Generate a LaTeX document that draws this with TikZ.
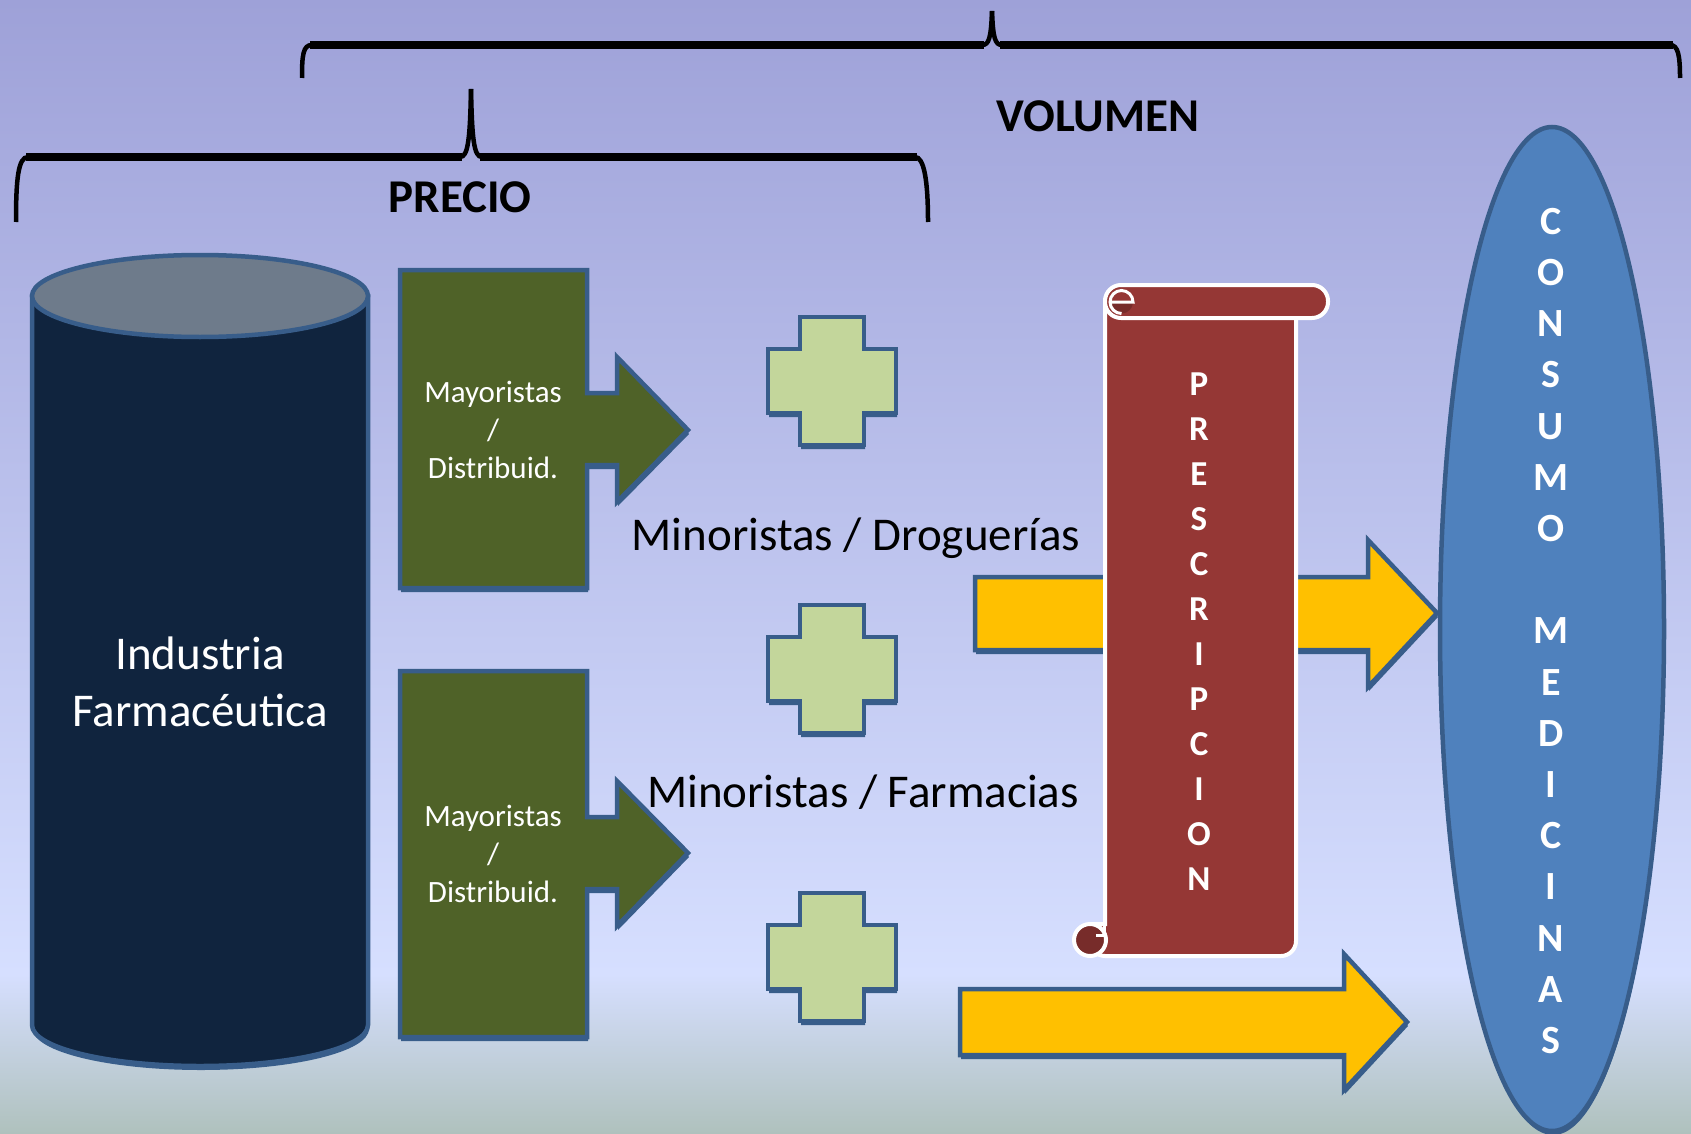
\documentclass[tikz,border=0pt]{standalone}
\usepackage{fontspec}
\setmainfont{Carlito}
\definecolor{bgtop}{HTML}{9EA1D8}
\definecolor{bgmid}{HTML}{D6DFFF}
\definecolor{bgbot}{HTML}{AFC1BD}
\definecolor{outl}{HTML}{385D8A}
\definecolor{navy}{HTML}{10243E}
\definecolor{cyltop}{HTML}{6E7B8B}
\definecolor{olive}{HTML}{4F6228}
\definecolor{lgreen}{HTML}{C3D69B}
\definecolor{gold}{HTML}{FFC000}
\definecolor{scrollred}{HTML}{953735}
\definecolor{scrolldark}{HTML}{772C2A}
\definecolor{ellblue}{HTML}{4F81BD}
\tikzset{
  shad/.style={preaction={fill=outl, transform canvas={xshift=1pt,yshift=-4pt}}},
  shp/.style={draw=outl, line width=4.5pt, line join=miter},
  bracepath/.style={line width=4.5pt, black, line cap=butt},
  braceband/.style={line width=8pt, black},
  plusshape/.pic={
    \path[shp, shad, fill=lgreen] (32,0) -- (96,0) -- (96,32) -- (128,32) -- (128,96) -- (96,96) -- (96,128) -- (32,128) -- (32,96) -- (0,96) -- (0,32) -- (32,32) -- cycle;
  },
  bigtext/.style={font=\fontsize{47}{57}\selectfont},
  whitetext/.style={text=white, align=center, inner sep=0pt},
}
\begin{document}
\begin{tikzpicture}[x=1pt,y=-1pt]
\useasboundingbox (0,0) rectangle (1691,1134);
% background
\fill[top color=bgtop, bottom color=bgmid] (0,0) rectangle (1691,975);
\fill[top color=bgmid, bottom color=bgbot] (0,974) rectangle (1691,1134);

% top brace (VOLUMEN)
\draw[bracepath] (302,78) .. controls (302,55) and (303,45) .. (312,45) -- (982,45) .. controls (989,45) and (991,38) .. (992,11);
\draw[bracepath] (992,11) .. controls (993,38) and (995,45) .. (1002,45) -- (1670,45) .. controls (1678,45) and (1680,55) .. (1680,78);
\draw[braceband] (310,45) -- (984,45) (1000,45) -- (1673,45);
% lower brace (PRECIO)
\draw[bracepath] (16,222) .. controls (16,180) and (18,157) .. (28,157) -- (460,157) .. controls (468,157) and (470,140) .. (471,89);
\draw[bracepath] (471,89) .. controls (472,140) and (474,157) .. (482,157) -- (915,157) .. controls (924,157) and (928,180) .. (928,222);
\draw[braceband] (26,157) -- (462,157) (480,157) -- (917,157);

\node[font=\bfseries\fontsize{47}{57}\selectfont, anchor=base, inner sep=0pt] (vol) at (1098,132) {VOLUMEN};
\node[font=\bfseries\fontsize{47}{57}\selectfont, anchor=base, inner sep=0pt] (pre) at (460,212) {PRECIO};

% cylinder
\path[shp, shad, fill=navy] (32,296) -- (32,1025) arc[start angle=180, end angle=0, x radius=168, y radius=41] -- (368,296) -- cycle;
\path[shp, fill=cyltop] (200,296) ellipse[x radius=168, y radius=41];
\node[whitetext, bigtext] (ind) at (200,682) {Industria\\Farmacéutica};

% green callouts
\path[shp, shad, fill=olive] (400,270) -- (587,270) -- (587,393) -- (617,393) -- (617,357) -- (688,430) -- (617,502) -- (617,465) -- (587,465) -- (587,588) -- (400,588) -- cycle;
\path[shp, shad, fill=olive] (400,671) -- (587,671) -- (587,817) -- (617,817) -- (617,781) -- (688,853) -- (617,926) -- (617,889) -- (587,889) -- (587,1037) -- (400,1037) -- cycle;
\node[whitetext, font=\fontsize{31}{38}\selectfont] (may1) at (493,430) {Mayoristas\\/\\Distribuid.};
\node[whitetext, font=\fontsize{31}{38}\selectfont] (may2) at (493,854) {Mayoristas\\/\\Distribuid.};

% crosses
\pic at (768,317) {plusshape};
\pic at (768,605) {plusshape};
\pic at (768,893) {plusshape};

\node[bigtext, anchor=base, inner sep=0pt] (mind) at (856,550) {Minoristas / Droguerías};
\node[bigtext, anchor=base, inner sep=0pt] (minf) at (863,807) {Minoristas / Farmacias};

% yellow arrows
\path[shp, shad, fill=gold] (975,577) -- (1368,577) -- (1368,540) -- (1437,613) -- (1368,687) -- (1368,650) -- (975,650) -- cycle;
\path[shp, shad, fill=gold] (960,989) -- (1344,989) -- (1344,954) -- (1407,1022) -- (1344,1090) -- (1344,1055) -- (960,1055) -- cycle;

% scroll
\path[draw=white, line width=4pt, fill=scrollred, rounded corners=15] (1105,300) -- (1296,300) -- (1296,956) -- (1090,956) [sharp corners] -- (1090,924) -- (1105,924) -- cycle;
\filldraw[fill=scrolldark, draw=white, line width=4pt] (1090,940) circle (16);
\draw[white, line width=3pt] (1104,924) -- (1104,935) -- (1096,935);
\path[draw=white, line width=4pt, fill=scrollred, rounded corners=16] (1105,285) rectangle (1328,318);
\fill[scrolldark] (1110,302) arc[start angle=180, end angle=0, radius=11.5] -- cycle;
\draw[white, line width=3pt] (1110,302) -- (1133,302) arc[start angle=0, end angle=-270, radius=11.5];
\node[whitetext, font=\bfseries\fontsize{35}{45}\selectfont] (presc) at (1199,632) {P\\R\\E\\S\\C\\R\\I\\P\\C\\I\\O\\N};

% ellipse
\path[shp, shad, fill=ellblue] (1552,629) ellipse[x radius=112, y radius=502];
\node[whitetext, font=\bfseries\fontsize{40}{51.2}\selectfont] (cons) at (1551,631) {C\\O\\N\\S\\U\\M\\O\\~\\M\\E\\D\\I\\C\\I\\N\\A\\S};
\end{tikzpicture}
\end{document}
